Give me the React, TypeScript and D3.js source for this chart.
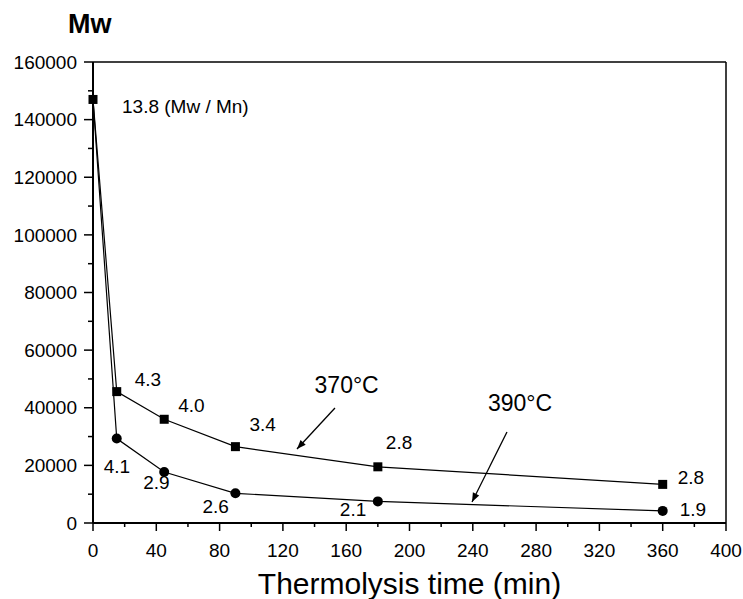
import React from "react";
import * as d3 from "d3";

// ---- data ----
const times370 = [0, 15, 45, 90, 180, 360];
const mw370 = [147000, 45600, 36000, 26500, 19500, 13400];
const pdi370 = ["13.8 (Mw / Mn)", "4.3", "4.0", "3.4", "2.8", "2.8"];
// label offsets (px) relative to each point
const off370: [number, number][] = [[29, 13.5], [18, -6], [14, -7], [14, -16], [8, -18], [15, 0]];

const times390 = [0, 15, 45, 90, 180, 360];
const mw390 = [147000, 29300, 17700, 10300, 7500, 4200];
const pdi390 = ["", "4.1", "2.9", "2.6", "2.1", "1.9"];
const off390: [number, number][] = [[0, 0], [-13, 34], [-21, 17], [-33, 20], [-38, 15], [17, 5]];

const xTicks = [0, 40, 80, 120, 160, 200, 240, 280, 320, 360, 400];
const yTicks = [0, 20000, 40000, 60000, 80000, 100000, 120000, 140000, 160000];

// callouts: label position and arrow (data coordinates)
const callouts = [
  { text: "370°C", x: 140, y: 45100, from: [152.9, 39900], to: [128.9, 25700] },
  { text: "390°C", x: 249.6, y: 38900, from: [261.6, 31600], to: [239.5, 7300] },
];

const W = 743;
const H = 599;
const M = { left: 93, top: 62, right: 17, bottom: 76 };
const FONT = "'Liberation Sans', Arial, Helvetica, sans-serif";

export default function App() {
  const iw = W - M.left - M.right;
  const ih = H - M.top - M.bottom;
  const x = d3.scaleLinear().domain([0, 400]).range([0, iw]);
  const y = d3.scaleLinear().domain([0, 160000]).range([ih, 0]);
  const line = d3
    .line<[number, number]>()
    .x((d) => x(d[0]))
    .y((d) => y(d[1]));
  const p370 = times370.map((t, i) => [t, mw370[i]] as [number, number]);
  const p390 = times390.map((t, i) => [t, mw390[i]] as [number, number]);

  const xMinor = d3.range(20, 400, 40);
  const yMinor = d3.range(10000, 160000, 20000);

  const arrowHead = (fx: number, fy: number, tx: number, ty: number) => {
    const x1 = x(fx), y1 = y(fy), x2 = x(tx), y2 = y(ty);
    const a = Math.atan2(y2 - y1, x2 - x1);
    const L = 9, Wd = 3.5;
    const bx = x2 - L * Math.cos(a), by = y2 - L * Math.sin(a);
    const px = -Math.sin(a) * Wd, py = Math.cos(a) * Wd;
    return `M${x2},${y2}L${bx + px},${by + py}L${bx - px},${by - py}Z`;
  };

  return (
    <svg
      width={W}
      height={H}
      style={{ position: "absolute", left: 0, top: 0, background: "#fff" }}
      fontFamily={FONT}
    >
      <rect width={W} height={H} fill="#fff" />
      <g transform={`translate(${M.left},${M.top})`}>
        {/* frame */}
        <line x1={0} x2={iw} y1={0} y2={0} stroke="#000" strokeWidth={1.5} />
        <line x1={iw} x2={iw} y1={0} y2={ih} stroke="#000" strokeWidth={1.5} />
        <line x1={0} x2={0} y1={0} y2={ih} stroke="#000" strokeWidth={2} />
        <line x1={0} x2={iw} y1={ih} y2={ih} stroke="#000" strokeWidth={2} />
        {/* y ticks */}
        {yTicks.map((t) => (
          <g key={"y" + t} transform={`translate(0,${y(t)})`}>
            <line x1={-9} x2={0} stroke="#000" strokeWidth={1.5} />
            <text x={-16} dy="0.35em" textAnchor="end" fontSize={19}>
              {t}
            </text>
          </g>
        ))}
        {yMinor.map((t) => (
          <line key={"ym" + t} x1={-5} x2={0} y1={y(t)} y2={y(t)} stroke="#000" strokeWidth={1.5} />
        ))}
        {/* x ticks */}
        {xTicks.map((t) => (
          <g key={"x" + t} transform={`translate(${x(t)},${ih})`}>
            <line y1={0} y2={8} stroke="#000" strokeWidth={1.5} />
            <text y={34} textAnchor="middle" fontSize={19}>
              {t}
            </text>
          </g>
        ))}
        {xMinor.map((t) => (
          <line key={"xm" + t} x1={x(t)} x2={x(t)} y1={ih} y2={ih + 4} stroke="#000" strokeWidth={1.5} />
        ))}

        {/* series lines */}
        <path d={line(p370) || ""} fill="none" stroke="#000" strokeWidth={1.2} />
        <path d={line(p390) || ""} fill="none" stroke="#000" strokeWidth={1.2} />

        {/* markers */}
        {p370.map((d, i) => (
          <rect
            key={"s" + i}
            x={x(d[0]) - 4.5}
            y={y(d[1]) - 4.5}
            width={9}
            height={9}
            fill="#000"
          />
        ))}
        {p390.slice(1).map((d, i) => (
          <circle key={"c" + i} cx={x(d[0])} cy={y(d[1])} r={5} fill="#000" />
        ))}

        {/* PDI labels */}
        {p370.map((d, i) => (
          <text
            key={"l370" + i}
            x={x(d[0]) + off370[i][0]}
            y={y(d[1]) + off370[i][1]}
            fontSize={19}
          >
            {pdi370[i]}
          </text>
        ))}
        {p390.map((d, i) =>
          pdi390[i] ? (
            <text
              key={"l390" + i}
              x={x(d[0]) + off390[i][0]}
              y={y(d[1]) + off390[i][1]}
              fontSize={19}
            >
              {pdi390[i]}
            </text>
          ) : null
        )}

        {/* callouts */}
        {callouts.map((c) => (
          <g key={c.text}>
            <text x={x(c.x)} y={y(c.y)} fontSize={23}>
              {c.text}
            </text>
            <line
              x1={x(c.from[0])}
              y1={y(c.from[1])}
              x2={x(c.to[0])}
              y2={y(c.to[1])}
              stroke="#000"
              strokeWidth={1.3}
            />
            <path d={arrowHead(c.from[0], c.from[1], c.to[0], c.to[1])} fill="#000" />
          </g>
        ))}
      </g>

      {/* axis titles */}
      <text x={68} y={33} fontSize={27} fontWeight="bold">
        Mw
      </text>
      <text x={M.left + iw / 2} y={594} fontSize={30} textAnchor="middle">
        Thermolysis time (min)
      </text>
    </svg>
  );
}
